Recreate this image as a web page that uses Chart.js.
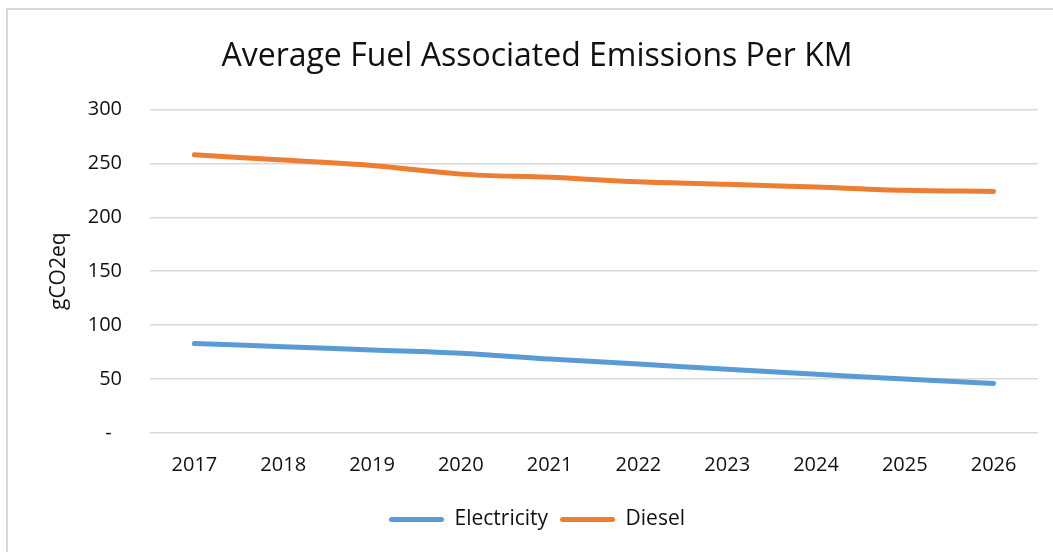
<!DOCTYPE html>
<html>
<head>
<meta charset="utf-8">
<title>Average Fuel Associated Emissions Per KM</title>
<script src="https://cdn.jsdelivr.net/npm/chart.js@4/dist/chart.umd.min.js"></script>
<style>
    html, body {
        margin: 0;
        padding: 0;
        background: #ffffff;
        overflow: hidden;
    }
    .frame {
        position: absolute;
        left: 6px;
        top: 8px;
        width: 1100px;
        height: 600px;
        border: 2px solid #d9d9d9;
    }
    .chart-box {
        position: absolute;
        left: 0;
        top: 0;
        width: 1053px;
        height: 552px;
    }
</style>
</head>
<body>
<div class="frame"></div>
<div class="chart-box">
    <canvas id="emissionsChart" width="1053" height="552"></canvas>
</div>
<script>
    // Years on the x axis
    const years = ['2017', '2018', '2019', '2020', '2021', '2022', '2023', '2024', '2025', '2026'];

    // gCO2eq per km for each fuel
    const electricity = [83, 80, 77, 74, 68.5, 64, 59, 54.5, 50, 46];
    const diesel = [258, 253, 248, 240, 237, 233, 230.5, 228, 225, 224];

    // Y axis labels, one per 50 step (accounting style dash for zero)
    const yTickLabels = ['-  ', '50', '100', '150', '200', '250', '300'];

    const FONT = "'Open Sans', 'Noto Sans', sans-serif";

    function initChart() {
        const ctx = document.getElementById('emissionsChart').getContext('2d');

        new Chart(ctx, {
            type: 'line',
            data: {
                labels: years,
                datasets: [{
                    label: 'Electricity',
                    data: electricity,
                    borderColor: '#5b9bd5',
                    backgroundColor: '#5b9bd5',
                    borderWidth: 5,
                    borderCapStyle: 'round',
                    pointRadius: 0,
                    tension: 0.35
                }, {
                    label: 'Diesel',
                    data: diesel,
                    borderColor: '#ed7d31',
                    backgroundColor: '#ed7d31',
                    borderWidth: 5,
                    borderCapStyle: 'round',
                    pointRadius: 0,
                    tension: 0.35
                }]
            },
            options: {
                responsive: false,
                animation: false,
                layout: {
                    padding: { left: 36, right: 15, top: 0, bottom: 12 }
                },
                plugins: {
                    title: {
                        display: true,
                        text: 'Average Fuel Associated Emissions Per KM',
                        color: '#111111',
                        font: { family: FONT, size: 32, weight: 'normal' },
                        padding: { top: 38, bottom: 33 }
                    },
                    legend: {
                        position: 'bottom',
                        labels: {
                            color: '#111111',
                            font: { family: FONT, size: 21 },
                            boxWidth: 55,
                            boxHeight: 5,
                            padding: 12,
                            generateLabels(chart) {
                                return chart.data.datasets.map((ds, i) => ({
                                    text: ds.label,
                                    fillStyle: ds.borderColor,
                                    strokeStyle: ds.borderColor,
                                    lineWidth: 0,
                                    borderRadius: 2.5,
                                    fontColor: '#111111',
                                    hidden: !chart.isDatasetVisible(i),
                                    datasetIndex: i
                                }));
                            }
                        }
                    },
                    tooltip: { enabled: false }
                },
                scales: {
                    x: {
                        offset: true,
                        grid: { display: false, drawTicks: false, offset: true },
                        border: { display: false },
                        ticks: {
                            color: '#111111',
                            font: { family: FONT, size: 20 },
                            padding: 20,
                            maxRotation: 0
                        },
                        afterFit(scale) {
                            scale.height = 64;
                        }
                    },
                    y: {
                        min: 0,
                        max: 300,
                        grid: {
                            color: '#d9d9d9',
                            lineWidth: 1.5,
                            drawTicks: false
                        },
                        border: { display: false },
                        ticks: {
                            stepSize: 50,
                            color: '#111111',
                            font: { family: FONT, size: 20 },
                            padding: 28,
                            callback: (value) => yTickLabels[value / 50]
                        },
                        title: {
                            display: true,
                            text: 'gCO2eq',
                            color: '#111111',
                            font: { family: FONT, size: 21 },
                            padding: { top: 10, bottom: 0 }
                        },
                        afterFit(scale) {
                            scale.width = 114;
                        }
                    }
                }
            }
        });
    }

    document.addEventListener('DOMContentLoaded', function() {
        initChart();
    });
</script>
</body>
</html>
